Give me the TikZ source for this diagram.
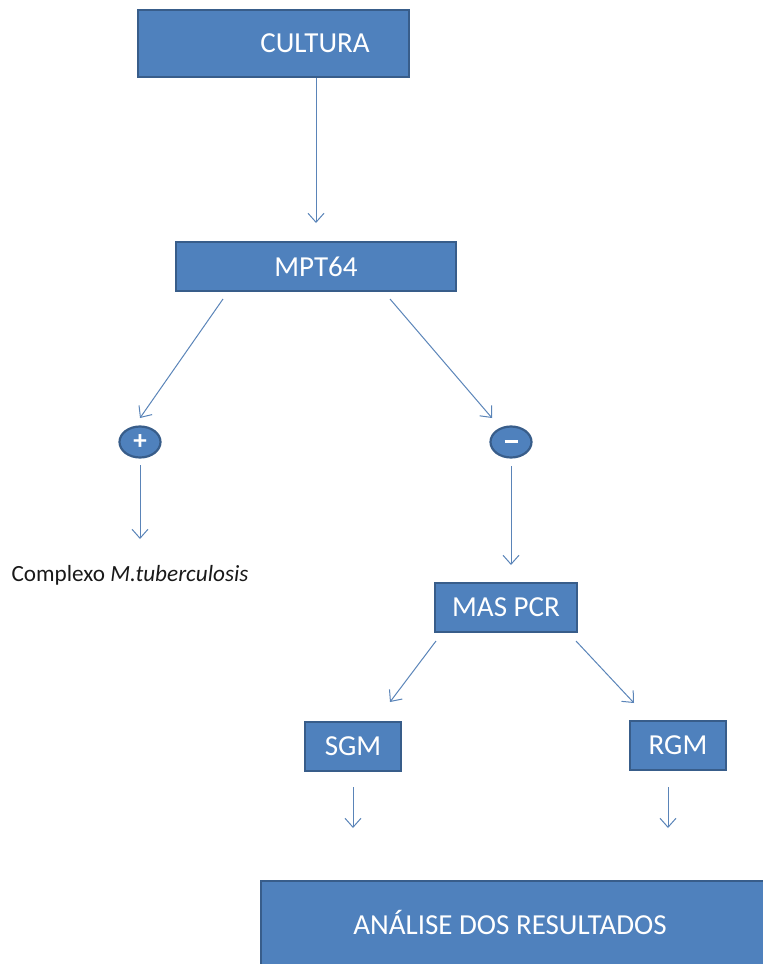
\documentclass[tikz,border=0pt]{standalone}
\usepackage{fontspec}
\setmainfont{Carlito}
\usetikzlibrary{arrows.meta,shapes.geometric}
\definecolor{boxfill}{HTML}{4F81BD}
\definecolor{boxline}{HTML}{385D8A}
\definecolor{arrcol}{HTML}{5A84B8}
\tikzset{
  box/.style={draw=boxline, line width=2pt, fill=boxfill, text=white, inner sep=0pt,
    font=\fontsize{29}{33}\selectfont},
  boxtext/.style={text=white, inner sep=0pt, font=\fontsize{29}{33}\selectfont},
  sign/.style={draw=boxline, line width=2.2pt, fill=boxfill, text=white, ellipse,
    minimum width=41pt, minimum height=31pt, inner sep=0pt, font=\fontsize{27}{28}\selectfont\bfseries},
  arr/.style={draw=arrcol, line width=1pt, -{Straight Barb[length=9pt,width=16pt,line width=1pt]}},
}
\begin{document}
\begin{tikzpicture}[x=1pt,y=-1pt]
\useasboundingbox (0,0) rectangle (763,964);
\begin{scope}
\clip (0,0) rectangle (763,964);
\node[box, minimum width=271pt, minimum height=67pt] (cultura) at (273,43.5) {};
\node[boxtext] (culturat) at (315,43.5) {CULTURA};
\node[box, minimum width=280pt, minimum height=49pt] (mpt) at (316,266.5) {MPT64};
\node[sign] (plus) at (140,442) {+};
\node[sign] (minus) at (511,442) {\raisebox{1pt}{\rule{13pt}{2.6pt}}};
\node[font=\fontsize{23.2}{26}\selectfont, text=black!90, inner sep=0pt] (mtb) at (130,575) {Complexo \textit{M.tuberculosis}};
\node[box, minimum width=142pt, minimum height=49pt] (mas) at (506,607.5) {MAS PCR};
\node[box, minimum width=96pt, minimum height=49pt] (sgm) at (353,746.5) {SGM};
\node[box, minimum width=96pt, minimum height=49pt] (rgm) at (678,745.5) {RGM};
\node[box, minimum width=540pt, minimum height=100pt, anchor=north west] (ana) at (260,880) {};
\node[boxtext] (anat) at (510,922) {ANÁLISE DOS RESULTADOS};
\end{scope}
\coordinate (a1s) at (316,78);   \coordinate (a1e) at (316,223);
\coordinate (a2s) at (223,299);  \coordinate (a2e) at (140,418);
\coordinate (a3s) at (390,299);  \coordinate (a3e) at (492,418);
\coordinate (a4s) at (140,465);  \coordinate (a4e) at (140,539);
\coordinate (a5s) at (511,466);  \coordinate (a5e) at (511,565);
\coordinate (a6s) at (436,641);  \coordinate (a6e) at (390,702);
\coordinate (a7s) at (576,641);  \coordinate (a7e) at (634,703);
\coordinate (a8s) at (353,787);  \coordinate (a8e) at (353,828);
\coordinate (a9s) at (668,787);  \coordinate (a9e) at (668,828);
\draw[arr] (a1s) -- (a1e);
\draw[arr] (a2s) -- (a2e);
\draw[arr] (a3s) -- (a3e);
\draw[arr] (a4s) -- (a4e);
\draw[arr] (a5s) -- (a5e);
\draw[arr] (a6s) -- (a6e);
\draw[arr] (a7s) -- (a7e);
\draw[arr] (a8s) -- (a8e);
\draw[arr] (a9s) -- (a9e);
\end{tikzpicture}
\end{document}
